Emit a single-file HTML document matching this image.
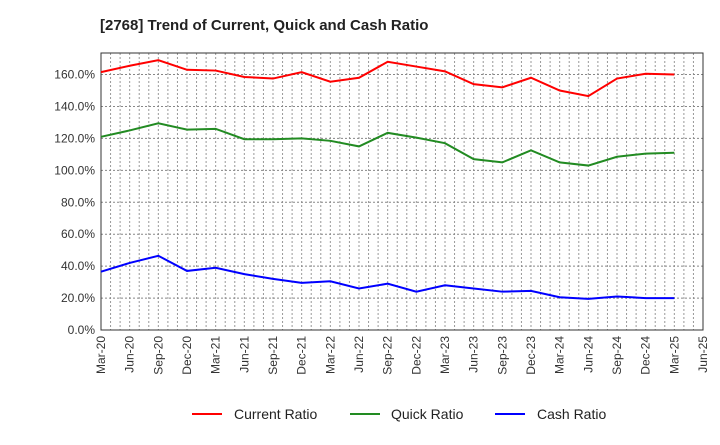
<!DOCTYPE html>
<html><head><meta charset="utf-8"><style>
body{margin:0;background:#fff;font-family:"Liberation Sans",sans-serif}
</style></head><body>
<svg id="c" width="720" height="440" xmlns="http://www.w3.org/2000/svg" font-family="Liberation Sans, sans-serif">
<text x="100" y="30" font-size="15" font-weight="bold" fill="#222">[2768]  Trend of Current, Quick and Cash Ratio</text>
<g id="grid"></g><g id="axes"></g><g id="series"></g>
<g>
<line x1="192" y1="414" x2="222" y2="414" stroke="#f00" stroke-width="2"/>
<text x="234" y="419" font-size="14" fill="#222">Current Ratio</text>
<line x1="350" y1="414" x2="380" y2="414" stroke="#228b22" stroke-width="2"/>
<text x="391" y="419" font-size="14" fill="#222">Quick Ratio</text>
<line x1="495" y1="414" x2="525" y2="414" stroke="#00f" stroke-width="2"/>
<text x="537" y="419" font-size="14" fill="#222">Cash Ratio</text>
</g>
</svg>
<script>
const xLabels=["Mar-20","Jun-20","Sep-20","Dec-20","Mar-21","Jun-21","Sep-21","Dec-21","Mar-22","Jun-22","Sep-22","Dec-22","Mar-23","Jun-23","Sep-23","Dec-23","Mar-24","Jun-24","Sep-24","Dec-24","Mar-25","Jun-25"];
const yTicks=[0,20,40,60,80,100,120,140,160];
const currentRatio=[161.5,165.5,169,163,162.5,158.5,157.5,161.5,155.5,158,168,165,162,154,152,158,150,146.5,157.5,160.5,160];
const quickRatio=[121,125,129.5,125.5,126,119.5,119.5,120,118.5,115,123.5,120.5,117,107,105,112.5,105,103,108.5,110.5,111];
const cashRatio=[36.5,42,46.5,37,39,35,32,29.5,30.5,26,29,24,28,26,24,24.5,20.5,19.5,21,20,20];
const L=101,R=703,T=53,B=330,yMax=173.5;
const ns="http://www.w3.org/2000/svg";
const X=i=>L+(R-L)*i/(xLabels.length-1);
const Y=v=>B-(B-T)*v/yMax;
function mk(tag,attrs,parent){const e=document.createElementNS(ns,tag);for(const k in attrs)e.setAttribute(k,attrs[k]);document.getElementById(parent).appendChild(e);return e;}
for(let m=1;m<(xLabels.length-1)*3;m++){const x=L+(R-L)*m/((xLabels.length-1)*3);
const g=mk('line',{x1:x,x2:x,y1:T,y2:B,stroke:'#999','stroke-dasharray':'2,2','stroke-width':1},'grid');

}
yTicks.forEach(v=>{const y=Y(v);
if(v>0){const g=mk('line',{x1:L,x2:R,y1:y,y2:y,stroke:'#888','stroke-dasharray':'2,2'},'grid');

}
const t=mk('text',{x:L-6,y:y+4,'text-anchor':'end','font-size':12,fill:'#333'},'axes');t.textContent=v.toFixed(1)+'%';

});
xLabels.forEach((s,i)=>{const x=X(i);
const t=mk('text',{transform:`translate(${x+4},336) rotate(-90)`,'text-anchor':'end','font-size':12,fill:'#333'},'axes');t.textContent=s;

});
const f=mk('rect',{x:L,y:T,width:R-L,height:B-T,fill:'none',stroke:'#333','stroke-width':1},'axes');


[[currentRatio,'#f00','current-ratio-line'],[quickRatio,'#228b22','quick-ratio-line'],[cashRatio,'#00f','cash-ratio-line']].forEach(([d,c,n])=>{
const p=mk('polyline',{points:d.map((v,i)=>X(i)+','+Y(v)).join(' '),fill:'none',stroke:c,'stroke-width':2},'series');

});
</script>
</body></html>
